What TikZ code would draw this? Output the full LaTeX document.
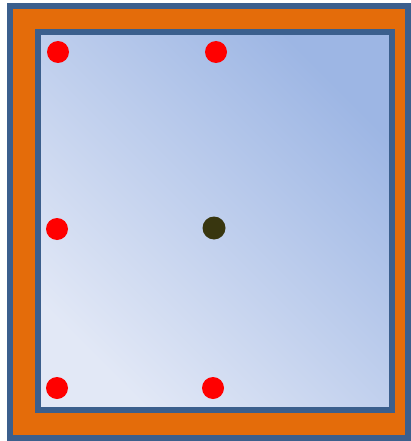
\documentclass[tikz,border=0pt]{standalone}
\begin{document}
\begin{tikzpicture}[x=1pt,y=-1pt,
  frame/.style={draw=bordblue,line width=6pt},
  reddot/.style={circle,fill=red,minimum size=22pt,inner sep=0pt},
  darkdot/.style={circle,fill=darkolive,minimum size=23pt,inner sep=0pt}]
\definecolor{bordblue}{HTML}{3B5F8D}
\definecolor{orangefill}{HTML}{E46C0A}
\definecolor{lightblue}{HTML}{E2E8F6}
\definecolor{midblue}{HTML}{9DB6E4}
\definecolor{darkolive}{HTML}{38360F}
\useasboundingbox (0,0) rectangle (411,441);
\path[frame,fill=orangefill] (10,6) rectangle (408,438);
\path[frame,shading=axis,top color=midblue,bottom color=lightblue,shading angle=-45] (38,32) rectangle (392,410);
\draw[bordblue,line width=6pt] (38,32) rectangle (392,410);
\node[reddot] (tl) at (58,52) {};
\node[reddot] (tm) at (216,52) {};
\node[reddot] (ml) at (57,229) {};
\node[darkdot] (c) at (214,228) {};
\node[reddot] (bl) at (57,388) {};
\node[reddot] (bm) at (213,388) {};
\end{tikzpicture}
\end{document}
